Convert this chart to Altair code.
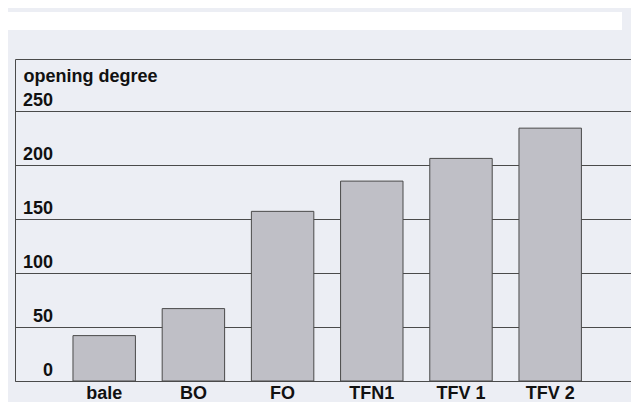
import altair as alt
import pandas as pd

# ---- data ----
categories = ["bale", "BO", "FO", "TFN1", "TFV 1", "TFV 2"]
opening_degree = [42, 67, 157, 185, 206, 234]
y_ticks = [0, 50, 100, 150, 200, 250]

bars_df = pd.DataFrame({"cat": categories, "val": opening_degree})
ticks_df = pd.DataFrame({"t": y_ticks})

BG = "#eceef4"
BAR = "#bfbfc6"
LINE = "#4a4a4a"
FONT = "Liberation Sans"
FS = 18

y_scale = alt.Scale(domain=[0, 298], nice=False, zero=True)
x_scale = alt.Scale(domain=categories, paddingInner=0.30, paddingOuter=0.603, align=0.539)

bars = alt.Chart(bars_df).mark_bar(
    color=BAR, stroke=LINE, strokeWidth=1
).encode(
    x=alt.X("cat:N", scale=x_scale, sort=categories,
            axis=alt.Axis(title=None, labelAngle=0, ticks=False, domain=False,
                          labelFont=FONT, labelFontSize=FS, labelFontWeight="bold",
                          labelColor="#111111", labelPadding=17,
                          labelBaseline="alphabetic")),
    y=alt.Y("val:Q", scale=y_scale,
            axis=alt.Axis(title="opening degree", labels=False, ticks=False,
                          domain=False, grid=True, gridColor=LINE, gridWidth=1,
                          gridOpacity=1, values=y_ticks,
                          titleAngle=0, titleX=8, titleY=22, titleAlign="left",
                          titleBaseline="alphabetic", titleFont=FONT,
                          titleFontSize=FS, titleFontWeight="bold",
                          titleColor="#111111")),
)

ylabels = alt.Chart(ticks_df).mark_text(
    align="right", baseline="alphabetic", dy=-5, font=FONT, fontSize=FS,
    fontWeight="bold", color="#111111"
).encode(
    x=alt.value(38),
    y=alt.Y("t:Q", scale=y_scale),
    text=alt.Text("t:Q"),
)

top_strip = alt.Chart(pd.DataFrame({"a": [0]})).mark_rect(
    color="white", clip=False
).encode(
    x=alt.value(-7), x2=alt.value(607), y=alt.value(-47), y2=alt.value(-29)
)

chart = alt.layer(top_strip, bars, ylabels).properties(
    width=616,
    height=322,
    background=BG,
    padding={"left": 7, "top": 51, "right": 0, "bottom": 21},
    autosize=alt.AutoSizeParams(type="none"),
).configure_view(
    stroke=LINE, strokeWidth=1, fill=BG
)

chart.save("out.html", embed_options={"renderer": "svg", "actions": False})
